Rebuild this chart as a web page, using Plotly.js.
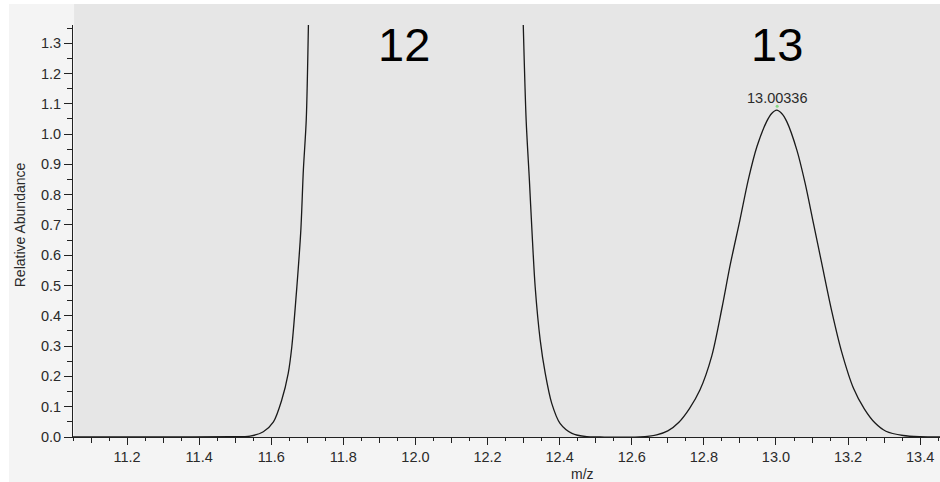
<!DOCTYPE html>
<html>
<head>
<meta charset="utf-8">
<script src="https://cdn.plot.ly/plotly-3.0.1.min.js"></script>
<style>html,body{margin:0;padding:0;background:#fff}#chart{width:940px;height:482px}</style>
</head>
<body>
<div id="chart"></div>
<script>
// Profile spectrum (m/z vs relative abundance); null = off-scale apex of the 12 peak
const mz = [11.05, 11.30, 11.486, 11.541, 11.578, 11.606, 11.629, 11.647, 11.657, 11.671, 11.682, 11.689, 11.697, 11.703,
            null,
            12.299, 12.307, 12.316, 12.323, 12.332, 12.346, 12.360, 12.378, 12.401, 12.434, 12.475, 12.512,
            12.623, 12.669, 12.700, 12.730, 12.760, 12.789, 12.822, 12.850, 12.873, 12.900, 12.923, 12.947, 12.974, 12.988,
            13.002, 13.016, 13.030, 13.058, 13.081, 13.104, 13.127, 13.155, 13.182, 13.215, 13.245, 13.275, 13.305, 13.353, 13.400, 13.455];
const abundance = [0, 0, 0.001, 0.003, 0.0175, 0.050, 0.122, 0.210, 0.298, 0.496, 0.683, 0.881, 1.046, 1.36,
            null,
            1.36, 1.046, 0.848, 0.683, 0.496, 0.320, 0.210, 0.111, 0.045, 0.012, 0.001, 0,
            0, 0.007, 0.020, 0.048, 0.094, 0.155, 0.268, 0.425, 0.568, 0.716, 0.848, 0.958, 1.041, 1.068,
            1.079, 1.068, 1.041, 0.947, 0.837, 0.705, 0.573, 0.414, 0.282, 0.161, 0.093, 0.046, 0.019, 0.005, 0.001, 0];

const peakMz = [13.00336];
const peakTop = [1.092];
const peakLabels = ['13.00336'];

const isotopeLabels = ['12', '13'];
const isotopeX = [11.968, 13.003];

const yTickVals = [0, 0.1, 0.2, 0.3, 0.4, 0.5, 0.6, 0.7, 0.8, 0.9, 1.0, 1.1, 1.2, 1.3];
const xTickVals = [11.2, 11.4, 11.6, 11.8, 12.0, 12.2, 12.4, 12.6, 12.8, 13.0, 13.2, 13.4];

const FONT = 'Liberation Sans, Arial, sans-serif';
const TXT = '#2a2a2a';
const AX = '#222222';

const traces = [
  {x: mz, y: abundance, type: 'scatter', mode: 'lines', connectgaps: false,
   line: {color: '#1a1a1a', width: 1.3, shape: 'spline', smoothing: 0.8},
   hoverinfo: 'skip', cliponaxis: true},
  {x: peakMz, y: peakTop, type: 'scatter', mode: 'markers',
   marker: {color: '#86d986', size: 3}, hoverinfo: 'skip'},
  {x: [11.2, 13.4], y: [0, 0], xaxis: 'x2', type: 'scatter', mode: 'markers',
   marker: {opacity: 0}, hoverinfo: 'skip'}
];

const annotations = [
  {text: 'Relative Abundance', xref: 'paper', yref: 'paper', x: -0.0611, y: 0.514,
   xanchor: 'center', yanchor: 'middle',
   textangle: -90, showarrow: false, font: {family: FONT, size: 14, color: TXT}},
  {text: 'm/z', xref: 'paper', yref: 'paper', x: 0.5876, y: -0.0898,
   xanchor: 'center', yanchor: 'middle',
   showarrow: false, font: {family: FONT, size: 14, color: TXT}},
  {text: peakLabels[0], x: peakMz[0], y: 1.1205, xref: 'x', yref: 'y',
   showarrow: false, yanchor: 'middle', font: {family: FONT, size: 14.5, color: TXT}}
];
isotopeLabels.forEach((t, i) => annotations.push({
  text: t, x: isotopeX[i], y: 1.297, xref: 'x', yref: 'y', showarrow: false,
  yanchor: 'middle', font: {family: FONT, size: 47, color: '#000'}
}));

const layout = {
  width: 940, height: 482,
  margin: {l: 73, r: 0, t: 25, b: 45, pad: 0},
  paper_bgcolor: '#ffffff',
  plot_bgcolor: 'rgba(0,0,0,0)',
  showlegend: false,
  font: {family: FONT, color: TXT, size: 14},
  xaxis: {
    range: [11.05, 13.455], tickvals: xTickVals, ticktext: xTickVals.map(v => v.toFixed(1)),
    ticks: 'outside', ticklen: 7, tickwidth: 1, tickcolor: AX,
    showline: true, linecolor: AX, linewidth: 1, showgrid: false, zeroline: false,
    tickfont: {family: FONT, size: 14.5, color: TXT},
    minor: {dtick: 0.1, tick0: 11.1, ticks: 'outside', ticklen: 5, tickcolor: AX, tickwidth: 1, showgrid: false},
    fixedrange: true
  },
  xaxis2: {
    overlaying: 'x', matches: 'x', anchor: 'y', side: 'bottom',
    tickmode: 'linear', tick0: 11.05, dtick: 0.05, ticks: 'outside', ticklen: 3, tickwidth: 1, tickcolor: AX,
    showticklabels: false, showline: false, showgrid: false, zeroline: false
  },
  yaxis: {
    range: [0, 1.36], tickvals: yTickVals, ticktext: yTickVals.map(v => v.toFixed(1)),
    ticks: 'outside', ticklen: 8, tickwidth: 1, tickcolor: AX,
    showline: true, linecolor: AX, linewidth: 1, showgrid: false, zeroline: false,
    tickfont: {family: FONT, size: 14.5, color: TXT},
    minor: {dtick: 0.05, tick0: 0.05, ticks: 'outside', ticklen: 5, tickcolor: AX, tickwidth: 1, showgrid: false},
    fixedrange: true
  },
  shapes: [
    {type: 'rect', xref: 'paper', yref: 'paper', x0: -0.0738, x1: 1.0, y0: -0.1092, y1: 1.051,
     fillcolor: '#f4f4f4', line: {width: 0}, layer: 'below'},
    {type: 'rect', xref: 'paper', yref: 'paper', x0: 0.0012, x1: 1.0, y0: 0, y1: 1.051,
     fillcolor: '#e6e6e6', line: {width: 0}, layer: 'below'}
  ],
  annotations: annotations
};

Plotly.newPlot('chart', traces, layout, {displayModeBar: false, staticPlot: true});
</script>
</body>
</html>
